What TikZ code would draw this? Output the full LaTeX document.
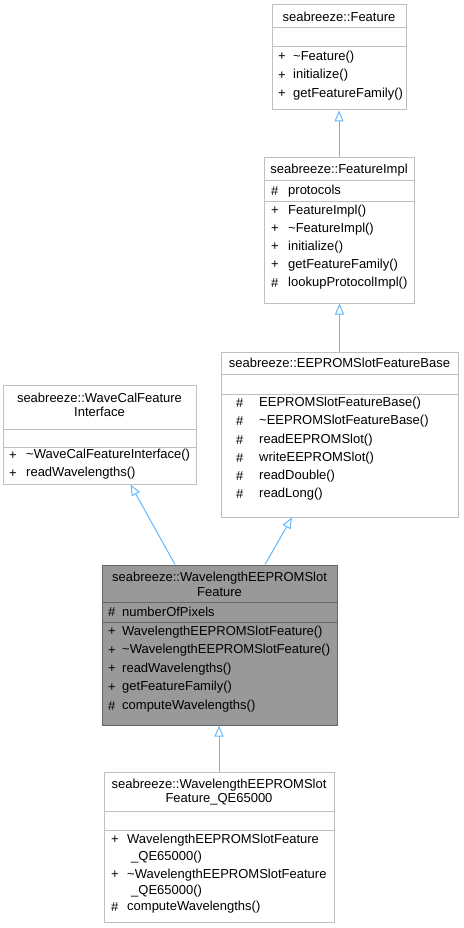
\documentclass[tikz,border=0pt]{standalone}
\usepackage{fontspec}
\setmainfont{Liberation Sans}
\usetikzlibrary{arrows.meta,calc,fit}
\definecolor{edgeblue}{HTML}{63B8FF}
\definecolor{boxline}{HTML}{BFBFBF}
\definecolor{curline}{HTML}{666666}
\definecolor{curfill}{HTML}{999999}
\tikzset{
  classbox/.style={draw=boxline,fill=white,line width=1pt,inner sep=0pt},
  curbox/.style={classbox,draw=curline,fill=curfill},
  sepline/.style={draw=boxline,line width=1pt},
  cursep/.style={draw=curline,line width=1pt},
  titletext/.style={align=center,inner sep=0pt,font=\fontsize{13}{14.5}\selectfont},
  membertext/.style={anchor=west,inner sep=0pt,font=\fontsize{13}{14.5}\selectfont},
  inherit/.style={-{Triangle[open,length=11pt,width=9pt]},draw=edgeblue,line width=1pt}
}
\begin{document}
\begin{tikzpicture}[x=1pt,y=-1pt]
  \useasboundingbox (0,0) rectangle (463,928);
  % seabreeze::Feature
  \node[classbox,fit={(272,5) (406,110)}] (feat) {};
  \node[titletext] (featname) at (339,17) {seabreeze::Feature};
  \draw[sepline] (272,28) -- (406,28);
  \draw[sepline] (272,47) -- (406,47);
  \node[membertext] (feats1) at (278,57) {+};
  \node[membertext] (featm1) at (293,57) {\textasciitilde Feature()};
  \node[membertext] (feats2) at (278,75.5) {+};
  \node[membertext] (featm2) at (293,75.5) {initialize()};
  \node[membertext] (feats3) at (278,94) {+};
  \node[membertext] (featm3) at (293,94) {getFeatureFamily()};
  % seabreeze::FeatureImpl
  \node[classbox,fit={(264,158) (414,303)}] (fimpl) {};
  \node[titletext] (fimplname) at (339,170) {seabreeze::FeatureImpl};
  \draw[sepline] (264,181) -- (414,181);
  \draw[sepline] (264,201) -- (414,201);
  \node[membertext] (fimpla1) at (271,191) {\#};
  \node[membertext] (fimplv1) at (288,191) {protocols};
  \node[membertext] (fimpls1) at (271,211) {+};
  \node[membertext] (fimplm1) at (288,211) {FeatureImpl()};
  \node[membertext] (fimpls2) at (271,229) {+};
  \node[membertext] (fimplm2) at (288,229) {\textasciitilde FeatureImpl()};
  \node[membertext] (fimpls3) at (271,247) {+};
  \node[membertext] (fimplm3) at (288,247) {initialize()};
  \node[membertext] (fimpls4) at (271,265) {+};
  \node[membertext] (fimplm4) at (288,265) {getFeatureFamily()};
  \node[membertext] (fimpls5) at (271,283) {\#};
  \node[membertext] (fimplm5) at (288,283) {lookupProtocolImpl()};
  % seabreeze::EEPROMSlotFeatureBase
  \node[classbox,fit={(221,352) (458,517)}] (eeprom) {};
  \node[titletext] (eepromname) at (339.5,363) {seabreeze::EEPROMSlotFeatureBase};
  \draw[sepline] (221,374) -- (458,374);
  \draw[sepline] (221,394) -- (458,394);
  \node[membertext] (eeproms1) at (236,403) {\#};
  \node[membertext] (eepromm1) at (259,403) {EEPROMSlotFeatureBase()};
  \node[membertext] (eeproms2) at (236,421) {\#};
  \node[membertext] (eepromm2) at (259,421) {\textasciitilde EEPROMSlotFeatureBase()};
  \node[membertext] (eeproms3) at (236,440) {\#};
  \node[membertext] (eepromm3) at (259,440) {readEEPROMSlot()};
  \node[membertext] (eeproms4) at (236,458) {\#};
  \node[membertext] (eepromm4) at (259,458) {writeEEPROMSlot()};
  \node[membertext] (eeproms5) at (236,476) {\#};
  \node[membertext] (eepromm5) at (259,476) {readDouble()};
  \node[membertext] (eeproms6) at (236,494) {\#};
  \node[membertext] (eepromm6) at (259,494) {readLong()};
  % seabreeze::WaveCalFeatureInterface
  \node[classbox,fit={(3,385) (196,484)}] (wavecal) {};
  \node[titletext] (wavecalname) at (99.5,405) {seabreeze::WaveCalFeature\\Interface};
  \draw[sepline] (3,429) -- (196,429);
  \draw[sepline] (3,447) -- (196,447);
  \node[membertext] (wavecals1) at (9,455.5) {+};
  \node[membertext] (wavecalm1) at (26,455.5) {\textasciitilde WaveCalFeatureInterface()};
  \node[membertext] (wavecals2) at (9,473.5) {+};
  \node[membertext] (wavecalm2) at (26,473.5) {readWavelengths()};
  % seabreeze::WavelengthEEPROMSlotFeature
  \node[curbox,fit={(102,565) (337,725)}] (wlen) {};
  \node[titletext] (wlenname) at (219.5,584.5) {seabreeze::WavelengthEEPROMSlot\\Feature};
  \draw[cursep] (102,602) -- (337,602);
  \draw[cursep] (102,622) -- (337,622);
  \node[membertext] (wlena1) at (108,612) {\#};
  \node[membertext] (wlenv1) at (122,612) {numberOfPixels};
  \node[membertext] (wlens1) at (108,632) {+};
  \node[membertext] (wlenm1) at (122,632) {WavelengthEEPROMSlotFeature()};
  \node[membertext] (wlens2) at (108,650.5) {+};
  \node[membertext] (wlenm2) at (122,650.5) {\textasciitilde WavelengthEEPROMSlotFeature()};
  \node[membertext] (wlens3) at (108,669) {+};
  \node[membertext] (wlenm3) at (122,669) {readWavelengths()};
  \node[membertext] (wlens4) at (108,687.5) {+};
  \node[membertext] (wlenm4) at (122,687.5) {getFeatureFamily()};
  \node[membertext] (wlens5) at (108,706) {\#};
  \node[membertext] (wlenm5) at (122,706) {computeWavelengths()};
  % seabreeze::WavelengthEEPROMSlotFeature_QE65000
  \node[classbox,fit={(104,772) (334,922)}] (qe) {};
  \node[titletext] (qename) at (219,792) {seabreeze::WavelengthEEPROMSlot\\Feature\_QE65000};
  \draw[sepline] (104,811) -- (334,811);
  \draw[sepline] (104,830) -- (334,830);
  \node[membertext] (qes1) at (111,840) {+};
  \node[membertext] (qem1) at (127,840) {WavelengthEEPROMSlotFeature};
  \node[membertext] (qem1b) at (131,857) {\_QE65000()};
  \node[membertext] (qes2) at (111,875) {+};
  \node[membertext] (qem2) at (127,875) {\textasciitilde WavelengthEEPROMSlotFeature};
  \node[membertext] (qem2b) at (131,891) {\_QE65000()};
  \node[membertext] (qes3) at (111,907) {\#};
  \node[membertext] (qem3) at (127,907) {computeWavelengths()};
  % inheritance
  \draw[inherit] (fimpl.north) -- (feat.south);
  \draw[inherit] (eeprom.north) -- (fimpl.south -| eeprom.north);
  \draw[inherit] ($(wlen.north)+(-44.5,0)$) -- ($(wavecal.south)+(31,0)$);
  \draw[inherit] ($(wlen.north)+(45.5,0)$) -- ($(eeprom.south)+(-47.5,0)$);
  \draw[inherit] (qe.north) -- (wlen.south -| qe.north);
\end{tikzpicture}
\end{document}
